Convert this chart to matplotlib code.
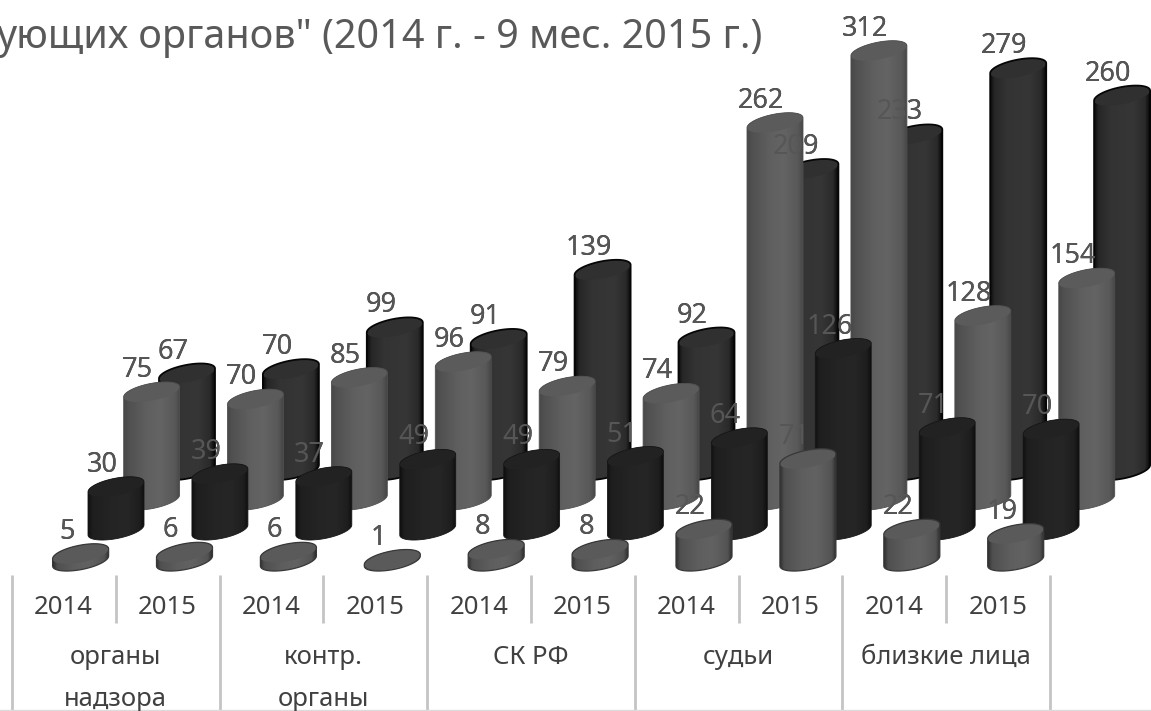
import numpy as np
import matplotlib
matplotlib.use("Agg")
import matplotlib.pyplot as plt
from matplotlib.colors import LinearSegmentedColormap
from matplotlib.path import Path
from matplotlib.patches import PathPatch

# ---------- data (front row to back row) ----------
row1_values = [5, 6, 6, 1, 8, 8, 22, 71, 22, 19]
row2_values = [30, 39, 37, 49, 49, 51, 64, 126, 71, 70]
row3_values = [75, 70, 85, 96, 79, 74, 262, 312, 128, 154]
row4_values = [67, 70, 99, 91, 139, 92, 209, 233, 279, 260]
year_labels = ["2014", "2015"] * 5
group_labels = ["органы\nнадзора", "контр.\nорганы", "СК РФ", "судьи", "близкие лица"]
title_text = 'ующих органов" (2014 г. - 9 мес. 2015 г.)'

FONT = "Noto Sans"
plt.rcParams["font.family"] = [FONT, "DejaVu Sans"]

fig = plt.figure(figsize=(11.51, 7.11), dpi=100)
ax = fig.add_axes([0, 0, 1, 1])
ax.set_axis_off()

SCALE = 1.44      # px per unit
A, B, S = 28, 8.7, 5   # cap half width, half height, tilt
STEP = 103.9

rows = [
    dict(vals=row4_values, x0=187.0, base=470,
         cm=[(0, "#0a0a0a"), (.07, "#262626"), (.3, "#333333"), (.7, "#363636"), (.92, "#2a2a2a"), (1, "#0a0a0a")],
         cap="#303030", edge="#060606", lw=1.3),
    dict(vals=row3_values, x0=151.6, base=500,
         cm=[(0, "#484848"), (.08, "#505050"), (.4, "#5f5f5f"), (.65, "#646464"), (.92, "#585858"), (1, "#484848")],
         cap="#5b5b5b", edge="#505050", lw=0.6),
    dict(vals=row2_values, x0=116.0, base=530,
         cm=[(0, "#101010"), (.07, "#1e1e1e"), (.4, "#242424"), (.7, "#262626"), (.93, "#1e1e1e"), (1, "#101010")],
         cap="#222222", edge="#161616", lw=0.6),
    dict(vals=row1_values, x0=80.6, base=561,
         cm=[(0, "#303030"), (.07, "#505050"), (.4, "#5e5e5e"), (.65, "#626262"), (.93, "#545454"), (1, "#303030")],
         cap="#5a5a5a", edge="#383838", lw=0.9),
]

t = np.linspace(0, 2 * np.pi, 73)


def ell(cx, cy, th):
    return cx + A * np.cos(th), cy - B * np.sin(th) - S * np.cos(th)


silhouettes = []
labels = []
for i_row, r in enumerate(rows):
    cmap = LinearSegmentedColormap.from_list("c", r["cm"])
    grad = np.linspace(0, 1, 64).reshape(1, -1)
    for i, v in enumerate(r["vals"]):
        cx = r["x0"] + STEP * i
        ybase = r["base"]
        ytop = ybase - v * SCALE
        th_low = np.linspace(np.pi, 2 * np.pi, 37)
        th_up = np.linspace(0, np.pi, 37)
        xl, yl = ell(cx, ybase, th_low)
        xu, yu = ell(cx, ytop, th_up)
        verts = np.column_stack([np.r_[xl, xu, xl[0]], np.r_[yl, yu, yl[0]]])
        path = Path(verts, closed=False)
        silhouettes.append(path)
        z = 10 + i_row
        im = ax.imshow(grad, cmap=cmap, extent=[cx - A, cx + A, ybase + 12, ytop - 12],
                       aspect="auto", zorder=z, interpolation="bilinear")
        im.set_clip_path(PathPatch(path, transform=ax.transData))
        cx_cap, cy_cap = ell(cx, ytop, t)
        ax.fill(cx_cap, cy_cap, fc=r["cap"], ec="none", zorder=z)
        ax.add_patch(PathPatch(path, fc="none", ec=r["edge"], lw=r["lw"], zorder=z))
        labels.append((cx - 14, ytop - 22, str(v)))

clip = Path.make_compound_path(*silhouettes)
for x, y, s in labels:
    ax.text(x, y, s, fontsize=19.5, color="#2a2a2a", ha="center", va="center", zorder=5)
    tx = ax.text(x, y, s, fontsize=19.5, color="#565656", ha="center", va="center", zorder=30)
    tx.set_clip_path(clip, transform=ax.transData)

# ---------- axis table under the chart ----------
x_lines = [12 + 103.8 * k for k in range(11)]
for k, xv in enumerate(x_lines):
    ax.plot([xv, xv], [575, 711 if k % 2 == 0 else 623], color="#c4c4c4", lw=2, zorder=1,
            solid_capstyle="butt")
ax.plot([0, 1151], [709.5, 709.5], color="#dcdcdc", lw=1, zorder=1)

for k, s in enumerate(year_labels):
    ax.text(63.5 + 103.8 * k, 608, s, fontsize=18.5, color="#404040", ha="center", va="center")
for k, s in enumerate(group_labels):
    xc = 115.5 + 207.6 * k
    for j, line in enumerate(s.split("\n")):
        ax.text(xc, 657 + 42 * j, line, fontsize=18.5, color="#404040", ha="center", va="center")

ax.text(762, 38, title_text, fontsize=28.5, color="#595959", ha="right", va="center")

ax.set_xlim(0, 1151)
ax.set_ylim(711, 0)
fig.savefig("out.png", dpi=100)
